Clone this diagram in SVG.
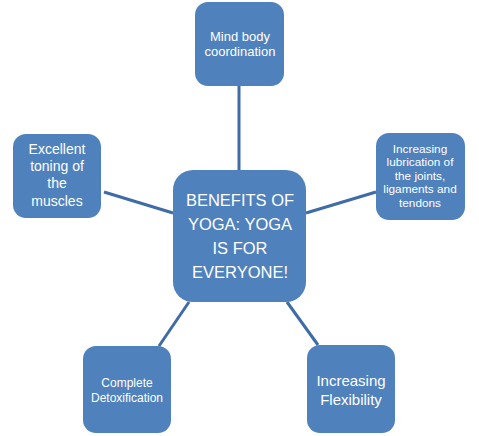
<svg xmlns="http://www.w3.org/2000/svg" width="479" height="436" viewBox="0 0 479 436">
<style>
.box{fill:#4F81BD;}
.t{fill:#FFFFFF;font-family:"Liberation Sans",Arial,sans-serif;text-anchor:middle;}
.c{stroke:#3F6CA6;stroke-width:3;fill:none;}
</style>
<rect width="479" height="436" fill="#FFFFFF"/>
<g id="connectors">
<line class="c" x1="239" y1="86" x2="239" y2="170"/>
<line class="c" x1="104" y1="192" x2="173" y2="213"/>
<line class="c" x1="306" y1="213" x2="376" y2="192"/>
<line class="c" x1="189" y1="302" x2="159" y2="346"/>
<line class="c" x1="287" y1="302" x2="318" y2="345"/>
</g>
<g id="center">
<rect class="box" x="173" y="170" width="133" height="132" rx="20"/>
<text class="t" font-size="16.5"><tspan x="240" y="206">BENEFITS OF</tspan><tspan x="240" y="230">YOGA: YOGA</tspan><tspan x="240" y="254">IS FOR</tspan><tspan x="240" y="278">EVERYONE!</tspan></text>
</g>
<g id="top">
<rect class="box" x="195" y="2" width="89" height="84" rx="13"/>
<text class="t" font-size="13"><tspan x="240" y="41">Mind body</tspan><tspan x="240" y="56">coordination</tspan></text>
</g>
<g id="right">
<rect class="box" x="376" y="133" width="89" height="87" rx="13"/>
<text class="t" font-size="11.8"><tspan x="420" y="153">Increasing</tspan><tspan x="420" y="166">lubrication of</tspan><tspan x="420" y="180">the joints,</tspan><tspan x="420" y="193">ligaments and</tspan><tspan x="420" y="207">tendons</tspan></text>
</g>
<g id="left">
<rect class="box" x="13" y="134" width="88" height="84" rx="13"/>
<text class="t" font-size="14"><tspan x="57" y="154">Excellent</tspan><tspan x="57" y="171">toning of</tspan><tspan x="57" y="188">the</tspan><tspan x="57" y="206">muscles</tspan></text>
</g>
<g id="bottom-left">
<rect class="box" x="83" y="346" width="88" height="87" rx="13"/>
<text class="t" font-size="12"><tspan x="127" y="387">Complete</tspan><tspan x="127" y="402">Detoxification</tspan></text>
</g>
<g id="bottom-right">
<rect class="box" x="307" y="345" width="88" height="88" rx="13"/>
<text class="t" font-size="15"><tspan x="351" y="386">Increasing</tspan><tspan x="351" y="405">Flexibility</tspan></text>
</g>
</svg>
